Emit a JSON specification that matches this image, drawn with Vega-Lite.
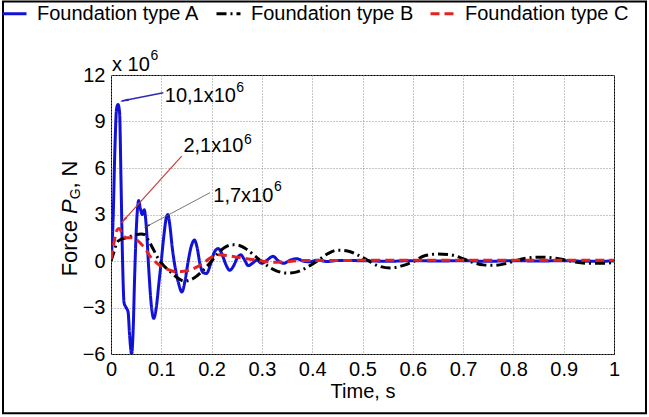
{
  "$schema": "https://vega.github.io/schema/vega-lite/v6.json",
  "autosize": {"type": "none"},
  "width": 503,
  "height": 279,
  "padding": {"left": 111, "top": 75, "right": 35, "bottom": 63},
  "background": "white",
  "config": {
    "font": "Liberation Sans",
    "view": {"stroke": "#000", "strokeWidth": 1},
    "text": {"color": "#000"}
  },
  "datasets": {
    "curves": [
      {"series":"Foundation type A","t":0,"v":0},{"series":"Foundation type A","t":0.004,"v":2.5},{"series":"Foundation type A","t":0.008,"v":7.5},{"series":"Foundation type A","t":0.011,"v":9.8},{"series":"Foundation type A","t":0.014,"v":10.1},{"series":"Foundation type A","t":0.017,"v":9.6},{"series":"Foundation type A","t":0.02,"v":5},{"series":"Foundation type A","t":0.023,"v":0},{"series":"Foundation type A","t":0.026,"v":-2.7},{"series":"Foundation type A","t":0.03,"v":-3.0},{"series":"Foundation type A","t":0.034,"v":-3.3},{"series":"Foundation type A","t":0.037,"v":-4.8},{"series":"Foundation type A","t":0.041,"v":-6.0},{"series":"Foundation type A","t":0.044,"v":-4.5},{"series":"Foundation type A","t":0.047,"v":-1},{"series":"Foundation type A","t":0.051,"v":2.5},{"series":"Foundation type A","t":0.055,"v":3.9},{"series":"Foundation type A","t":0.059,"v":3.3},{"series":"Foundation type A","t":0.062,"v":3.0},{"series":"Foundation type A","t":0.066,"v":3.3},{"series":"Foundation type A","t":0.07,"v":2.3},{"series":"Foundation type A","t":0.075,"v":-0.5},{"series":"Foundation type A","t":0.08,"v":-2.8},{"series":"Foundation type A","t":0.085,"v":-3.7},{"series":"Foundation type A","t":0.09,"v":-3.0},{"series":"Foundation type A","t":0.095,"v":-1.5},{"series":"Foundation type A","t":0.1,"v":0},{"series":"Foundation type A","t":0.105,"v":1.6},{"series":"Foundation type A","t":0.11,"v":2.8},{"series":"Foundation type A","t":0.113,"v":3.0},{"series":"Foundation type A","t":0.117,"v":2.3},{"series":"Foundation type A","t":0.122,"v":0.8},{"series":"Foundation type A","t":0.128,"v":-0.5},{"series":"Foundation type A","t":0.134,"v":-1.4},{"series":"Foundation type A","t":0.141,"v":-2.0},{"series":"Foundation type A","t":0.147,"v":-1.3},{"series":"Foundation type A","t":0.153,"v":-0.1},{"series":"Foundation type A","t":0.16,"v":1.0},{"series":"Foundation type A","t":0.166,"v":1.35},{"series":"Foundation type A","t":0.171,"v":0.9},{"series":"Foundation type A","t":0.177,"v":-0.2},{"series":"Foundation type A","t":0.183,"v":-0.75},{"series":"Foundation type A","t":0.19,"v":-0.8},{"series":"Foundation type A","t":0.198,"v":-0.2},{"series":"Foundation type A","t":0.206,"v":0.6},{"series":"Foundation type A","t":0.213,"v":0.8},{"series":"Foundation type A","t":0.22,"v":0.5},{"series":"Foundation type A","t":0.228,"v":-0.2},{"series":"Foundation type A","t":0.236,"v":-0.6},{"series":"Foundation type A","t":0.244,"v":-0.3},{"series":"Foundation type A","t":0.251,"v":0.2},{"series":"Foundation type A","t":0.258,"v":0.4},{"series":"Foundation type A","t":0.265,"v":0.1},{"series":"Foundation type A","t":0.273,"v":-0.3},{"series":"Foundation type A","t":0.281,"v":-0.15},{"series":"Foundation type A","t":0.29,"v":0.05},{"series":"Foundation type A","t":0.3,"v":-0.15},{"series":"Foundation type A","t":0.31,"v":0.05},{"series":"Foundation type A","t":0.322,"v":0.3},{"series":"Foundation type A","t":0.333,"v":0.0},{"series":"Foundation type A","t":0.343,"v":-0.15},{"series":"Foundation type A","t":0.356,"v":0.05},{"series":"Foundation type A","t":0.369,"v":0.15},{"series":"Foundation type A","t":0.382,"v":0.0},{"series":"Foundation type A","t":0.395,"v":-0.05},{"series":"Foundation type A","t":0.41,"v":0.05},{"series":"Foundation type A","t":0.43,"v":-0.03},{"series":"Foundation type A","t":0.45,"v":0.03},{"series":"Foundation type A","t":0.5,"v":0.02},{"series":"Foundation type A","t":0.55,"v":-0.02},{"series":"Foundation type A","t":0.6,"v":0.02},{"series":"Foundation type A","t":0.65,"v":0},{"series":"Foundation type A","t":0.7,"v":0.02},{"series":"Foundation type A","t":0.75,"v":-0.02},{"series":"Foundation type A","t":0.8,"v":0.02},{"series":"Foundation type A","t":0.85,"v":0},{"series":"Foundation type A","t":0.9,"v":0.02},{"series":"Foundation type A","t":0.95,"v":-0.02},{"series":"Foundation type A","t":1,"v":0},
      {"series":"Foundation type B","t":0,"v":0},{"series":"Foundation type B","t":0.006,"v":0.6},{"series":"Foundation type B","t":0.012,"v":1.2},{"series":"Foundation type B","t":0.02,"v":1.4},{"series":"Foundation type B","t":0.03,"v":1.5},{"series":"Foundation type B","t":0.04,"v":1.6},{"series":"Foundation type B","t":0.05,"v":1.7},{"series":"Foundation type B","t":0.06,"v":1.75},{"series":"Foundation type B","t":0.067,"v":1.7},{"series":"Foundation type B","t":0.075,"v":1.3},{"series":"Foundation type B","t":0.085,"v":0.7},{"series":"Foundation type B","t":0.095,"v":0.1},{"series":"Foundation type B","t":0.105,"v":-0.3},{"series":"Foundation type B","t":0.115,"v":-0.6},{"series":"Foundation type B","t":0.125,"v":-0.9},{"series":"Foundation type B","t":0.135,"v":-1.15},{"series":"Foundation type B","t":0.145,"v":-1.3},{"series":"Foundation type B","t":0.155,"v":-1.25},{"series":"Foundation type B","t":0.165,"v":-1.1},{"series":"Foundation type B","t":0.18,"v":-0.7},{"series":"Foundation type B","t":0.195,"v":-0.2},{"series":"Foundation type B","t":0.21,"v":0.4},{"series":"Foundation type B","t":0.225,"v":0.85},{"series":"Foundation type B","t":0.24,"v":1.05},{"series":"Foundation type B","t":0.255,"v":1.0},{"series":"Foundation type B","t":0.27,"v":0.75},{"series":"Foundation type B","t":0.285,"v":0.35},{"series":"Foundation type B","t":0.3,"v":-0.05},{"series":"Foundation type B","t":0.315,"v":-0.4},{"series":"Foundation type B","t":0.33,"v":-0.65},{"series":"Foundation type B","t":0.35,"v":-0.78},{"series":"Foundation type B","t":0.37,"v":-0.7},{"series":"Foundation type B","t":0.39,"v":-0.4},{"series":"Foundation type B","t":0.41,"v":0.0},{"series":"Foundation type B","t":0.43,"v":0.45},{"series":"Foundation type B","t":0.45,"v":0.7},{"series":"Foundation type B","t":0.47,"v":0.65},{"series":"Foundation type B","t":0.49,"v":0.4},{"series":"Foundation type B","t":0.51,"v":0.05},{"series":"Foundation type B","t":0.53,"v":-0.3},{"series":"Foundation type B","t":0.555,"v":-0.45},{"series":"Foundation type B","t":0.58,"v":-0.3},{"series":"Foundation type B","t":0.6,"v":-0.05},{"series":"Foundation type B","t":0.625,"v":0.35},{"series":"Foundation type B","t":0.65,"v":0.45},{"series":"Foundation type B","t":0.675,"v":0.4},{"series":"Foundation type B","t":0.7,"v":0.15},{"series":"Foundation type B","t":0.72,"v":-0.1},{"series":"Foundation type B","t":0.74,"v":-0.25},{"series":"Foundation type B","t":0.76,"v":-0.28},{"series":"Foundation type B","t":0.78,"v":-0.2},{"series":"Foundation type B","t":0.8,"v":-0.02},{"series":"Foundation type B","t":0.83,"v":0.2},{"series":"Foundation type B","t":0.86,"v":0.25},{"series":"Foundation type B","t":0.89,"v":0.15},{"series":"Foundation type B","t":0.92,"v":-0.05},{"series":"Foundation type B","t":0.95,"v":-0.15},{"series":"Foundation type B","t":0.97,"v":-0.15},{"series":"Foundation type B","t":1,"v":-0.1},
      {"series":"Foundation type C","t":0,"v":0.1},{"series":"Foundation type C","t":0.006,"v":1.2},{"series":"Foundation type C","t":0.012,"v":2.0},{"series":"Foundation type C","t":0.016,"v":2.1},{"series":"Foundation type C","t":0.022,"v":1.8},{"series":"Foundation type C","t":0.03,"v":1.5},{"series":"Foundation type C","t":0.04,"v":1.5},{"series":"Foundation type C","t":0.05,"v":1.4},{"series":"Foundation type C","t":0.06,"v":1.1},{"series":"Foundation type C","t":0.07,"v":0.7},{"series":"Foundation type C","t":0.08,"v":0.2},{"series":"Foundation type C","t":0.09,"v":-0.1},{"series":"Foundation type C","t":0.1,"v":-0.35},{"series":"Foundation type C","t":0.11,"v":-0.5},{"series":"Foundation type C","t":0.12,"v":-0.62},{"series":"Foundation type C","t":0.13,"v":-0.7},{"series":"Foundation type C","t":0.14,"v":-0.68},{"series":"Foundation type C","t":0.155,"v":-0.6},{"series":"Foundation type C","t":0.17,"v":-0.4},{"series":"Foundation type C","t":0.185,"v":-0.1},{"series":"Foundation type C","t":0.2,"v":0.25},{"series":"Foundation type C","t":0.215,"v":0.4},{"series":"Foundation type C","t":0.23,"v":0.35},{"series":"Foundation type C","t":0.25,"v":0.25},{"series":"Foundation type C","t":0.27,"v":0.15},{"series":"Foundation type C","t":0.29,"v":0.05},{"series":"Foundation type C","t":0.31,"v":-0.05},{"series":"Foundation type C","t":0.33,"v":-0.08},{"series":"Foundation type C","t":0.35,"v":-0.05},{"series":"Foundation type C","t":0.37,"v":0.02},{"series":"Foundation type C","t":0.4,"v":0.04},{"series":"Foundation type C","t":0.45,"v":0.03},{"series":"Foundation type C","t":0.5,"v":0.05},{"series":"Foundation type C","t":0.6,"v":0.05},{"series":"Foundation type C","t":0.7,"v":0.05},{"series":"Foundation type C","t":0.8,"v":0.05},{"series":"Foundation type C","t":0.9,"v":0.05},{"series":"Foundation type C","t":1,"v":0.05}
    ],
    "notes": [
      {"t":0.107,"v":10.24,"text":"10,1x10"},
      {"t":0.144,"v":7.01,"text":"2,1x10"},
      {"t":0.2034,"v":3.79,"text":"1,7x10"},
      {"t":0.002,"v":12.24,"text":"x 10"}
    ],
    "sups": [
      {"t":0.249,"v":10.9,"text":"6"},
      {"t":0.2644,"v":7.55,"text":"6"},
      {"t":0.324,"v":4.5,"text":"6"},
      {"t":0.0785,"v":13.0,"text":"6"}
    ]
  },
  "encoding": {
    "x": {
      "field": "t", "type": "quantitative",
      "scale": {"domain": [0, 1], "nice": false, "zero": false},
      "axis": {
        "title": "Time, s",
        "values": [0, 0.1, 0.2, 0.3, 0.4, 0.5, 0.6, 0.7, 0.8, 0.9, 1],
        "labelExpr": "datum.value == 0 ? '0' : (datum.value == 1 ? '1' : format(datum.value, '.1f'))",
        "labelFlush": false, "labelOverlap": false,
        "labelFontSize": 20, "labelColor": "#000", "labelPadding": 5,
        "titleFontSize": 20, "titleFontWeight": "normal", "titleColor": "#000", "titlePadding": 2,
        "grid": true, "gridDash": [1, 2], "gridColor": "#8c8c8c", "gridOpacity": 1,
        "domain": false, "ticks": false
      }
    },
    "y": {
      "field": "v", "type": "quantitative",
      "scale": {"domain": [-6, 12], "nice": false, "zero": false},
      "axis": {
        "title": null,
        "values": [-6, -3, 0, 3, 6, 9, 12],
        "format": "d",
        "labelFlush": false, "labelOverlap": false,
        "labelFontSize": 20, "labelColor": "#000", "labelPadding": 6,
        "grid": true, "gridDash": [1, 2], "gridColor": "#8c8c8c", "gridOpacity": 1,
        "domain": false, "ticks": false
      }
    }
  },
  "layer": [
    {
      "data": {"values": [{"t": -0.2147, "t2": 1.0636, "v": 16.75, "v2": -9.83}]},
      "mark": {"type": "rect", "fill": null, "fillOpacity": 0, "stroke": "#000", "strokeWidth": 2, "clip": false},
      "encoding": {"x2": {"field": "t2"}, "y2": {"field": "v2"}}
    },
    {
      "data": {"name": "curves"},
      "mark": {"type": "line", "strokeWidth": 3, "interpolate": "monotone", "clip": true},
      "encoding": {
        "color": {
          "field": "series", "type": "nominal",
          "scale": {"domain": ["Foundation type A", "Foundation type B", "Foundation type C"], "range": ["#1212d6", "#000000", "#e32222"]},
          "legend": {
            "title": null, "orient": "none", "legendX": -110, "legendY": -75,
            "direction": "horizontal", "columns": 3,
            "symbolType": "stroke", "symbolSize": 576, "symbolStrokeWidth": 3,
            "labelFontSize": 20, "labelColor": "#000", "labelOffset": 9, "labelLimit": 400,
            "columnPadding": 10, "padding": 0
          }
        },
        "strokeDash": {
          "field": "series", "type": "nominal",
          "scale": {"domain": ["Foundation type A", "Foundation type B", "Foundation type C"], "range": [[1, 0], [10, 4, 2, 4], [9, 5]]},
          "legend": {
            "title": null, "orient": "none", "legendX": -110, "legendY": -75,
            "direction": "horizontal", "columns": 3,
            "symbolType": "stroke", "symbolSize": 576, "symbolStrokeWidth": 3,
            "labelFontSize": 20, "labelColor": "#000", "labelOffset": 9, "labelLimit": 400,
            "columnPadding": 10, "padding": 0
          }
        }
      }
    },
    {
      "data": {"values": [{"t": 0.104, "v": 10.86, "t2": 0.0212, "v2": 10.32}]},
      "mark": {"type": "rule", "color": "#2b2bb0", "strokeWidth": 1.5},
      "encoding": {"x2": {"field": "t2"}, "y2": {"field": "v2"}}
    },
    {
      "data": {"values": [{"t": 0.029, "v": 10.37}]},
      "mark": {"type": "point", "shape": "wedge", "size": 110, "filled": true, "color": "#2b2bb0", "opacity": 1, "angle": 258.6}
    },
    {
      "data": {"values": [{"t": 0.1405, "v": 6.77, "t2": 0.0212, "v2": 2.48}]},
      "mark": {"type": "rule", "color": "#c8403a", "strokeWidth": 1.2},
      "encoding": {"x2": {"field": "t2"}, "y2": {"field": "v2"}}
    },
    {
      "data": {"values": [{"t": 0.0266, "v": 2.67}]},
      "mark": {"type": "point", "shape": "wedge", "size": 110, "filled": true, "color": "#c8403a", "opacity": 1, "angle": 222}
    },
    {
      "data": {"values": [{"t": 0.197, "v": 4.41, "t2": 0.0676, "v2": 2.17}]},
      "mark": {"type": "rule", "color": "#555555", "strokeWidth": 0.8},
      "encoding": {"x2": {"field": "t2"}, "y2": {"field": "v2"}}
    },
    {
      "data": {"values": [{"t": 0.0728, "v": 2.26}]},
      "mark": {"type": "point", "shape": "wedge", "size": 60, "filled": true, "color": "#333333", "opacity": 1, "angle": 241.9}
    },
    {
      "data": {"name": "notes"},
      "mark": {"type": "text", "align": "left", "baseline": "alphabetic", "fontSize": 20, "color": "#000"},
      "encoding": {"text": {"field": "text"}}
    },
    {
      "data": {"name": "sups"},
      "mark": {"type": "text", "align": "left", "baseline": "alphabetic", "fontSize": 14, "color": "#000"},
      "encoding": {"text": {"field": "text"}}
    },
    {
      "data": {"values": [{"t": -0.0815, "v": -0.99, "text": "Force"}, {"t": -0.0815, "v": 4.67, "text": ", N"}]},
      "mark": {"type": "text", "align": "left", "baseline": "middle", "angle": 270, "fontSize": 22, "color": "#000"},
      "encoding": {"text": {"field": "text"}}
    },
    {
      "data": {"values": [{"t": -0.0815, "v": 3.03, "text": "P"}]},
      "mark": {"type": "text", "align": "left", "baseline": "middle", "angle": 270, "fontSize": 22, "fontStyle": "italic", "color": "#000"},
      "encoding": {"text": {"field": "text"}}
    },
    {
      "data": {"values": [{"t": -0.0696, "v": 3.98, "text": "G"}]},
      "mark": {"type": "text", "align": "left", "baseline": "middle", "angle": 270, "fontSize": 14, "color": "#000"},
      "encoding": {"text": {"field": "text"}}
    }
  ]
}
